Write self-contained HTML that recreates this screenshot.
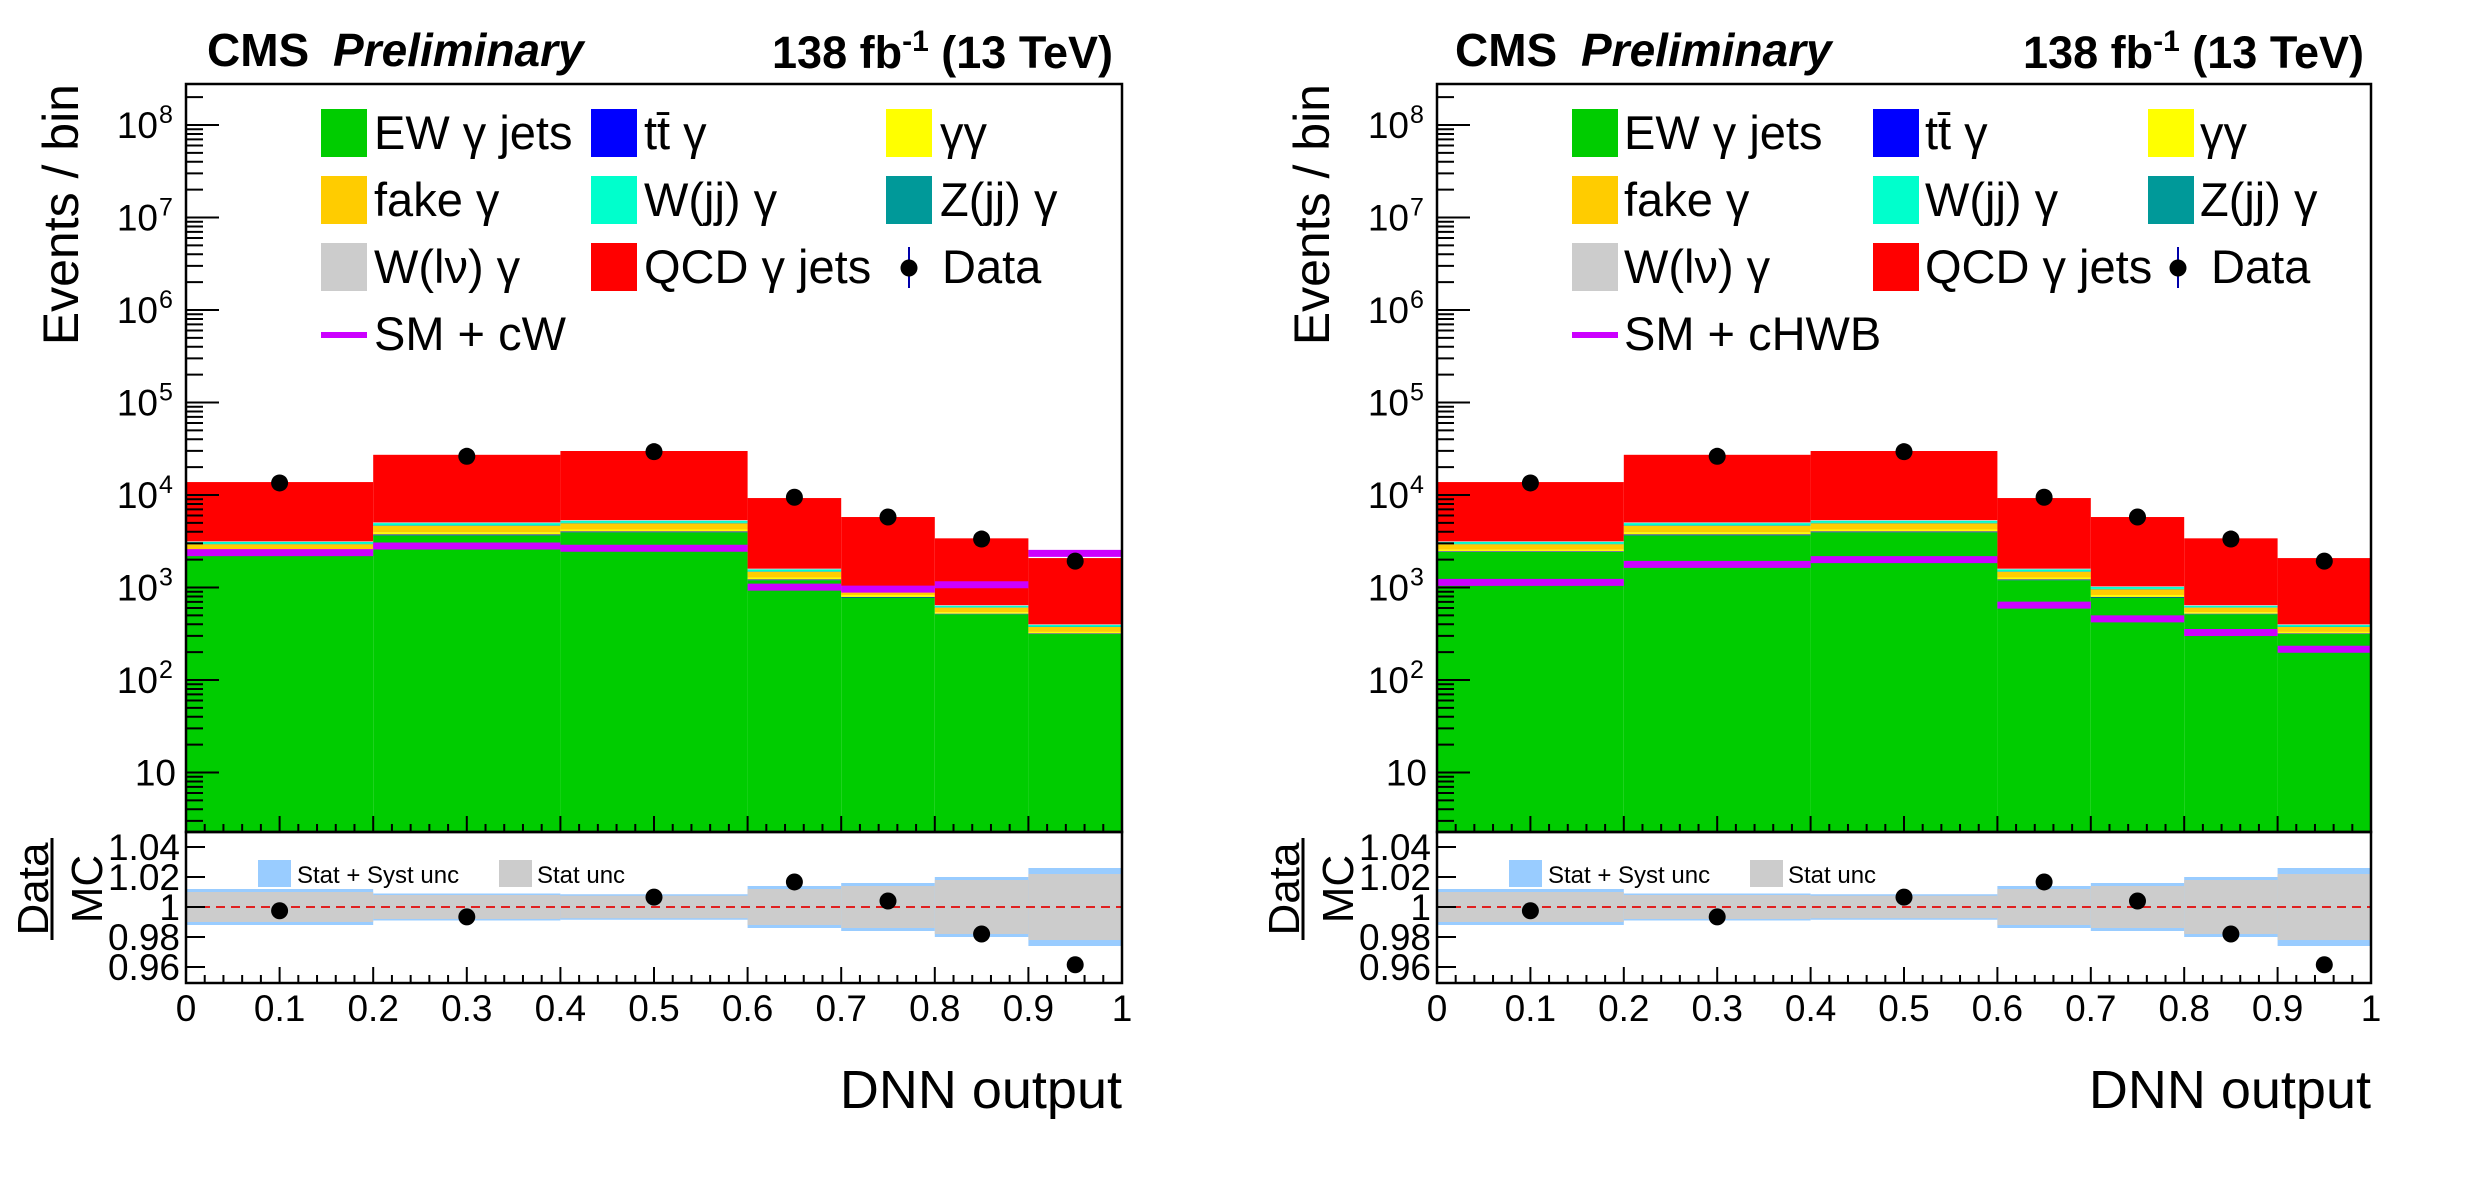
<!DOCTYPE html>
<html><head><meta charset="utf-8"><style>
html,body{margin:0;padding:0;background:#fff;}
svg{display:block;font-family:"Liberation Sans",sans-serif;}
</style></head><body>
<svg id="chart" width="2486" height="1185" viewBox="0 0 2486 1185" xmlns="http://www.w3.org/2000/svg"></svg>
<script>
// ---- data ----
const binEdges = [0, 0.2, 0.4, 0.6, 0.7, 0.8, 0.9, 1.0];
const ewGammaJets = [2420, 3670, 3960, 1200, 780, 515, 314];
const ttGamma     = [37, 70, 70, 20, 12, 6, 4];
const gammaGamma  = [110, 210, 210, 60, 38, 20, 13];
const fakeGamma   = [370, 700, 700, 200, 125, 65, 43];
const zjjGamma    = [37, 70, 70, 20, 12, 6, 4];
const wjjGamma    = [133, 250, 250, 72, 45, 23, 15];
const wlvGamma    = [52, 90, 100, 28, 18, 10, 7];
const qcdGammaJets= [10640, 22140, 24540, 7670, 4750, 2755, 1680];
const dataCounts  = [13500, 26200, 29400, 9450, 5780, 3340, 1930];
const smPlusCW    = [2380, 2810, 2660, 1010, 960, 1070, 2340];
const smPlusCHWB  = [1135, 1780, 2000, 645, 458, 326, 215];
const ratioValues = [0.9975, 0.9934, 1.0066, 1.0167, 1.004, 0.982, 0.9615];
const statSystUnc = [0.012, 0.009, 0.0085, 0.014, 0.016, 0.020, 0.026];
const statUnc     = [0.010, 0.008, 0.0075, 0.012, 0.014, 0.018, 0.022];
const xTickLabels = ["0","0.1","0.2","0.3","0.4","0.5","0.6","0.7","0.8","0.9","1"];
const yDecades    = [1, 2, 3, 4, 5, 6, 7, 8];
const ratioTicks  = [1.04, 1.02, 1, 0.98, 0.96];
const ratioTickLabels = ["1.04","1.02","1","0.98","0.96"];

const NS = "http://www.w3.org/2000/svg";
const svg = document.getElementById("chart");
function mk(tag, attrs, parent){
  const e = document.createElementNS(NS, tag);
  for (const k in attrs) e.setAttribute(k, attrs[k]);
  (parent||svg).appendChild(e);
  return e;
}
const TOP = 84, MAINBOT = 832, RBOT = 983;
function yMain(v){ return 125 + (8 - Math.log10(v)) * 92.5; }
function yRatio(r){ return 907 - (r - 1) * 1500; }

const stackDefs = [
  [ewGammaJets, "#00cc00", "ew-gamma-jets"],
  [ttGamma, "#0000ff", "ttbar-gamma"],
  [gammaGamma, "#ffff00", "gamma-gamma"],
  [fakeGamma, "#ffcc00", "fake-gamma"],
  [zjjGamma, "#009999", "zjj-gamma"],
  [wjjGamma, "#00ffcc", "wjj-gamma"],
  [wlvGamma, "#cccccc", "wlv-gamma"],
  [qcdGammaJets, "#ff0000", "qcd-gamma-jets"]
];

function panel(x0, W, signal, sigLabel, pfx, hdr, leg){
  const g = mk("g", {});
  
  
  const X = v => x0 + v * W;
  for (let i = 0; i < binEdges.length - 1; i++){
    let cum = 0;
    for (const [arr, col, nm] of stackDefs){
      const lo = cum; cum += arr[i];
      const yb = lo <= 0 ? MAINBOT : Math.min(MAINBOT, yMain(lo));
      const yt = yMain(cum);
      const r = mk("rect", {x: X(binEdges[i]), y: yt, width: X(binEdges[i+1]) - X(binEdges[i]), height: Math.max(0, yb - yt), fill: col}, g);
      
      
    }
  }
  for (let i = 0; i < signal.length; i++){
    const l = mk("line", {x1: X(binEdges[i]), x2: X(binEdges[i+1]), y1: yMain(signal[i]), y2: yMain(signal[i]), stroke: "#cc00ff", "stroke-width": 7}, g);
    
    
  }
  for (let i = 0; i < dataCounts.length; i++){
    const cx = X((binEdges[i] + binEdges[i+1]) / 2);
    const c = mk("circle", {cx: cx, cy: yMain(dataCounts[i]), r: 8.5, fill: "#000"}, g);
    
    
  }
  mk("rect", {x: x0, y: TOP, width: W, height: MAINBOT - TOP, fill: "none", stroke: "#000", "stroke-width": 2.5}, g);
  for (let d = 0; d <= 8; d++){
    for (let m = 1; m <= 9; m++){
      const v = m * Math.pow(10, d);
      const y = yMain(v);
      if (y < TOP || y > MAINBOT) continue;
      mk("line", {x1: x0, x2: x0 + (m === 1 ? 33 : 17), y1: y, y2: y, stroke: "#000", "stroke-width": 2}, g);
    }
  }
  yDecades.forEach(d => {
    const y = yMain(Math.pow(10, d));
    const t = mk("text", {x: d === 1 ? x0 - 10 : x0 - 28, y: y + 13, "font-size": 37, "text-anchor": "end"}, g);
    
    
    t.textContent = "10";
    if (d > 1){
      const s = mk("text", {x: x0 - 27, y: y - 2, "font-size": 25}, g);
      
      
      s.textContent = String(d);
    }
  });
  for (let k = 0; k <= 50; k++){
    const x = X(k / 50); const maj = k % 5 === 0;
    mk("line", {x1: x, x2: x, y1: MAINBOT, y2: MAINBOT - (maj ? 16 : 8), stroke: "#000", "stroke-width": 2}, g);
    mk("line", {x1: x, x2: x, y1: RBOT, y2: RBOT - (maj ? 16 : 8), stroke: "#000", "stroke-width": 2}, g);
  }
  for (let i = 0; i < ratioValues.length; i++){
    const xa = X(binEdges[i]), xb = X(binEdges[i+1]);
    const b1 = mk("rect", {x: xa, y: yRatio(1 + statSystUnc[i]), width: xb - xa, height: yRatio(1 - statSystUnc[i]) - yRatio(1 + statSystUnc[i]), fill: "#99ccff"}, g);
    
    
    const b2 = mk("rect", {x: xa, y: yRatio(1 + statUnc[i]), width: xb - xa, height: yRatio(1 - statUnc[i]) - yRatio(1 + statUnc[i]), fill: "#cccccc"}, g);
    
    
  }
  mk("line", {x1: x0, x2: x0 + W, y1: yRatio(1), y2: yRatio(1), stroke: "#e02020", "stroke-width": 2, "stroke-dasharray": "9 6"}, g);
  for (let i = 0; i < ratioValues.length; i++){
    const c = mk("circle", {cx: X((binEdges[i] + binEdges[i+1]) / 2), cy: yRatio(ratioValues[i]), r: 8.5, fill: "#000"}, g);
    
    
  }
  mk("rect", {x: x0, y: MAINBOT, width: W, height: RBOT - MAINBOT, fill: "none", stroke: "#000", "stroke-width": 2.5}, g);
  ratioTicks.forEach((r, j) => {
    const y = yRatio(r);
    mk("line", {x1: x0, x2: x0 + 19, y1: y, y2: y, stroke: "#000", "stroke-width": 2}, g);
    const t = mk("text", {x: x0 - 6, y: y + 13, "font-size": 37, "text-anchor": "end"}, g);
    
    
    t.textContent = ratioTickLabels[j];
  });
  xTickLabels.forEach((s, k) => {
    const t = mk("text", {x: X(k / 10), y: 1021, "font-size": 37, "text-anchor": "middle"}, g);
    
    
    t.textContent = s;
  });
  const xt = mk("text", {x: x0 + W, y: 1108, "font-size": 54, "text-anchor": "end"}, g);
  
  
  xt.textContent = "DNN output";
  const yt = mk("text", {transform: `translate(${x0 - 108},84) rotate(-90)`, "font-size": 50, "text-anchor": "end"}, g);
  
  
  yt.textContent = "Events / bin";
  const rd = mk("text", {transform: `translate(${x0 - 138},889) rotate(-90)`, "font-size": 44, "text-anchor": "middle"}, g);
  
  
  rd.textContent = "Data";
  mk("line", {x1: x0 - 134, x2: x0 - 134, y1: 838, y2: 940, stroke: "#000", "stroke-width": 3}, g);
  const rm = mk("text", {transform: `translate(${x0 - 84},889) rotate(-90)`, "font-size": 44, "text-anchor": "middle"}, g);
  
  
  rm.textContent = "MC";
  const cms = mk("text", {x: hdr[0], y: 66, "font-size": 46, "font-weight": "bold"}, g);
  
  
  cms.textContent = "CMS";
  const pre = mk("text", {x: hdr[0] + 126, y: 66, "font-size": 46, "font-weight": "bold", "font-style": "italic"}, g);
  
  
  pre.textContent = "Preliminary";
  const lum = mk("text", {x: hdr[1], y: 68, "font-size": 45, "font-weight": "bold", "text-anchor": "end"}, g);
  
  
  lum.innerHTML = '138 fb<tspan font-size="30" dy="-17">-1</tspan><tspan dy="17"> (13 TeV)</tspan>';
  const rows = [149, 216, 283];
  const entries = [
    [0,0,"#00cc00","EW γ jets"],[1,0,"#0000ff","tt̄ γ"],[2,0,"#ffff00","γγ"],
    [0,1,"#ffcc00","fake γ"],[1,1,"#00ffcc","W(jj) γ"],[2,1,"#009999","Z(jj) γ"],
    [0,2,"#cccccc","W(lν) γ"],[1,2,"#ff0000","QCD γ jets"]
  ];
  entries.forEach(([c, r, col, lab]) => {
    const eg = mk("g", {}, g);
    
    
    mk("rect", {x: leg.box[c], y: rows[r] - 40, width: 46, height: 48, fill: col}, eg);
    const t = mk("text", {x: leg.txt[c], y: rows[r], "font-size": 47}, eg);
    t.textContent = lab;
  });
  const dg = mk("g", {}, g);
  
  
  mk("line", {x1: leg.dot, x2: leg.dot, y1: 247, y2: 288, stroke: "#0000aa", "stroke-width": 2}, dg);
  mk("circle", {cx: leg.dot, cy: 268, r: 8.5, fill: "#000"}, dg);
  const dt = mk("text", {x: leg.dot + 33, y: 283, "font-size": 47}, dg);
  dt.textContent = "Data";
  const sg = mk("g", {}, g);
  
  
  mk("line", {x1: leg.box[0], x2: leg.box[0] + 46, y1: 335, y2: 335, stroke: "#cc00ff", "stroke-width": 6}, sg);
  const st = mk("text", {x: leg.txt[0], y: 350, "font-size": 47}, sg);
  st.textContent = sigLabel;
  const rg = mk("g", {}, g);
  
  
  mk("rect", {x: x0 + 72, y: 860, width: 33, height: 27, fill: "#99ccff"}, rg);
  const r1 = mk("text", {x: x0 + 111, y: 883, "font-size": 24}, rg); r1.textContent = "Stat + Syst unc";
  mk("rect", {x: x0 + 313, y: 860, width: 33, height: 27, fill: "#cccccc"}, rg);
  const r2 = mk("text", {x: x0 + 351, y: 883, "font-size": 24}, rg); r2.textContent = "Stat unc";
}

panel(186, 936, smPlusCW, "SM + cW", "left", [207, 1113],
  {box: [321, 591, 886], txt: [374, 644, 940], dot: 909});
panel(1437, 934, smPlusCHWB, "SM + cHWB", "right", [1455, 2364],
  {box: [1572, 1873, 2148], txt: [1624, 1925, 2200], dot: 2178});
</script>
</body></html>
